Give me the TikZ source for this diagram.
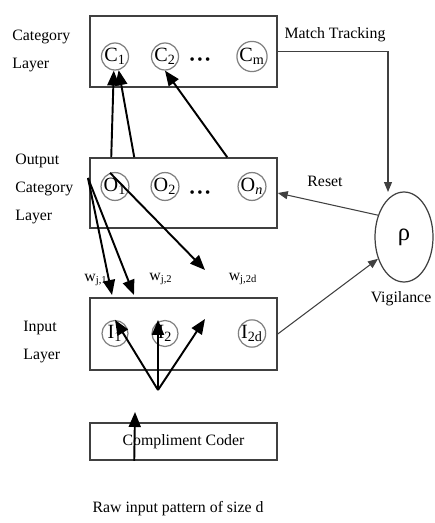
\documentclass[tikz,border=0pt]{standalone}
\usepackage{fontspec}
\setmainfont{Liberation Serif}
\usepackage{tikz}
\usetikzlibrary{shapes.geometric,arrows.meta,calc}

\begin{document}
\begin{tikzpicture}[x=0.02cm,y=-0.02cm,
        layerbox/.style={draw=black!75, line width=0.9pt, minimum width=3.74cm, inner sep=0pt},
        unit/.style={circle, draw=black!50, line width=0.7pt, minimum size=0.52cm, inner sep=0pt, font=\fontsize{11.5}{12}\selectfont},
        lbl/.style={font=\fontsize{9}{16}\selectfont, align=left, inner sep=0pt},
        big/.style={line width=1.1pt, -{Triangle[length=0.3cm,width=0.24cm]}},
        slim/.style={draw=black!75, line width=0.6pt, -{Triangle[length=0.2cm,width=0.16cm]}}]
        \useasboundingbox (0,0) rectangle (434,523);

        % Layer boxes
        \node[layerbox, minimum height=1.42cm] (cat) at (183.5,51.5) {};
        \node[layerbox, minimum height=1.4cm] (out) at (183.5,193) {};
        \node[layerbox, minimum height=1.44cm] (inp) at (183.5,334) {};
        \node[layerbox, minimum height=0.74cm, font=\fontsize{9}{11}\selectfont] (coder) at (183.5,441.5) {Compliment Coder};

        % Units in each layer
        \foreach \name/\x/\txt in {c1/115/C\textsubscript{1}, c2/165/C\textsubscript{2}, cm/252/C\textsubscript{m}} {
            \node[unit] (\name) at (\x,56.5) {\txt};
        }
        \foreach \name/\x/\txt in {o1/115/O\textsubscript{1}, o2/165/O\textsubscript{2}, on/252/O\textsubscript{\itshape n}} {
            \node[unit] (\name) at (\x,186.5) {\txt};
        }
        \foreach \name/\x/\txt in {i1/115/I\textsubscript{1}, i2/165/I\textsubscript{2}, i2d/252/I\textsubscript{2d}} {
            \node[unit] (\name) at (\x,333.5) {\txt};
        }
        \node[font=\fontsize{8.5}{9}\selectfont] (cdots) at (200,61) {\textbullet\,\textbullet\,\textbullet};
        \node[font=\fontsize{8.5}{9}\selectfont] (odots) at (200,194) {\textbullet\,\textbullet\,\textbullet};

        % Vigilance
        \node[ellipse, draw=black!75, line width=0.7pt, minimum width=1.16cm, minimum height=1.8cm, font=\fontsize{14}{16}\selectfont] (vig) at (404,237) {ρ};

        % Labels
        \node[lbl, anchor=west] (catlbl) at (12,51) {Category\\Layer};
        \node[lbl, anchor=west] (outlbl) at (15,189) {Output\\Category\\Layer};
        \node[lbl, anchor=west] (inplbl) at (23,342) {Input\\Layer};
        \node[lbl] (mtlbl) at (335,35) {Match Tracking};
        \node[lbl] (resetlbl) at (325,181) {Reset};
        \node[lbl] (viglbl) at (401,299) {Vigilance};
        \node[lbl] (w1) at (96,280) {w\textsubscript{j,1}};
        \node[lbl] (w2) at (161,279) {w\textsubscript{j,2}};
        \node[lbl] (w3) at (243,279) {w\textsubscript{j,2d}};
        \node[lbl] (rawlbl) at (178,509) {Raw input pattern of size d};

        % Free ends
        \coordinate (oSrc) at (88,178);
        \coordinate (wa) at (112,295);
        \coordinate (wb) at (134,295);
        \coordinate (wc) at (205,270);
        \coordinate (iSrc) at (158,390);
        \coordinate (ic) at (205,319);
        \coordinate (mtEnd) at (388,192);
        \coordinate (rawTop) at (135,412);

        % Output -> category
        \draw[big] ($(out.north west)+(22,0)$) -- (c1.265);
        \draw[big] ($(out.north west)+(45,0)$) -- (c1.285);
        \draw[big] ($(out.north west)+(138,0)$) -- (c2.south);

        % Output -> input weights
        \draw[big] (oSrc) -- (wa);
        \draw[big] (oSrc) -- (wb);
        \draw[big] (o1.110) -- (wc);

        % Coder -> input
        \draw[big] (iSrc) -- (i1.north);
        \draw[big] (iSrc) -- (i2.north -| iSrc);
        \draw[big] (iSrc) -- (ic);
        \draw[big] ($(coder.south west)+(45,0)$) -- (rawTop);

        % Vigilance loop
        \draw[slim] (cat.east) -| (mtEnd);
        \draw[slim] (vig.140) -- (out.east);
        \draw[slim] (inp.east) -- (vig.220);
    \end{tikzpicture}
\end{document}
